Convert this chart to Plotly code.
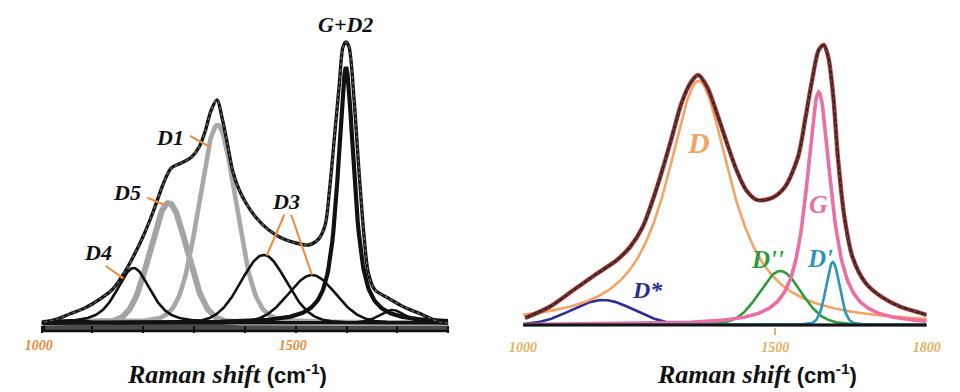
import numpy as np
import plotly.graph_objects as go

# ---------------------------------------------------------------
# Common Raman-shift grid used to evaluate the fitted band profiles
# ---------------------------------------------------------------
shift = np.arange(1000, 1801, 2)

# ---------------- Left panel: measured spectrum ----------------
left_obs_shift = [1005, 1030, 1055, 1085, 1115, 1140, 1160, 1180, 1200, 1220,
                  1240, 1255, 1275, 1295, 1310, 1322, 1333, 1345, 1356, 1366,
                  1376, 1388, 1402, 1421, 1447, 1472, 1500, 1525, 1545, 1558,
                  1566, 1577, 1586, 1593, 1599, 1605, 1615, 1624, 1634, 1643,
                  1656, 1682, 1713, 1751, 1783, 1800]
left_obs_int = [1, 4, 9, 15, 24, 34, 48, 66, 87, 112,
                140, 155, 160, 166, 176, 192, 212, 223, 203, 178,
                152, 134, 120, 106, 93, 85, 80, 78, 84, 98,
                130, 190, 240, 276, 281, 276, 223, 156, 90, 50,
                33, 25, 16, 8, 1, 0]

# ---------------- Left panel: fitted bands ----------------
left_band_label = ["D4", "D5", "D1", "D3", "D3", "G+D2", "", ""]
left_band_center = [1181, 1250, 1346, 1437, 1532, 1599, 1690, 1075]
left_band_height = [55, 120, 198, 68, 48, 255, 13, 3]
left_band_fwhm = [78, 86, 86, 106, 110, 38, 60, 40]
left_band_lorentz = [0.5, 0.05, 0.15, 0.1, 0.1, 0.85, 0.3, 0.0]

# ---------------- Right panel: measured spectrum ----------------
right_obs_shift = [1004, 1052, 1100, 1148, 1186, 1212, 1237, 1257, 1276, 1295,
                   1314, 1333, 1347, 1365, 1384, 1404, 1423, 1442, 1464, 1493,
                   1519, 1545, 1560, 1573, 1586, 1596, 1605, 1615, 1624, 1637,
                   1653, 1679, 1711, 1749, 1788, 1800]
right_obs_int = [7, 18, 35, 52, 65, 78, 98, 125, 155, 188,
                 222, 243, 250, 238, 212, 182, 155, 135, 125, 127,
                 138, 168, 208, 245, 275, 280, 268, 228, 168, 108,
                 68, 42, 28, 18, 12, 10]

# ---------------- Right panel: fitted bands ----------------
right_band_label = ["D*", "D", "D''", "G", "D'"]
right_band_center = [1158, 1348, 1510, 1586, 1614]
right_band_height = [25, 244, 54, 233, 63]
right_band_fwhm = [145, 152, 98, 58, 32]
right_band_lorentz = [0.0, 0.92, 0.15, 0.9, 0.2]
right_band_color = ["#2b2f93", "#f2a465", "#2f9a3c", "#ec6fa2", "#2b93bf"]

# Tick labels on the Raman-shift axes
left_tick_vals = [1000, 1500]
right_tick_vals = [1000, 1500, 1800]


def pseudo_voigt(x, center, height, fwhm, eta):
    """Pseudo-Voigt band: eta * Lorentzian + (1 - eta) * Gaussian."""
    d = (x - center) / fwhm
    lor = 1.0 / (1.0 + 4.0 * d ** 2)
    gau = np.exp(-4.0 * np.log(2.0) * d ** 2)
    return height * (eta * lor + (1.0 - eta) * gau)


fig = go.Figure()

# ---------------- Left panel traces ----------------
left_style = {
    "D4": ("#111111", 2.6),
    "D5": ("#a4a4a4", 6.0),
    "D1": ("#a8a8a8", 4.6),
    "D3": ("#111111", 2.6),
    "G+D2": ("#111111", 4.2),
    "": ("#111111", 2.4),
}
order = [1, 2, 0, 3, 4, 6, 7, 5]
for i in order:
    col, wid = left_style[left_band_label[i]]
    y = pseudo_voigt(shift, left_band_center[i], left_band_height[i],
                     left_band_fwhm[i], left_band_lorentz[i])
    fig.add_trace(go.Scatter(x=shift, y=y, mode="lines",
                             line=dict(color=col, width=wid),
                             xaxis="x", yaxis="y", showlegend=False,
                             hoverinfo="skip"))

# measured spectrum: dark trace with a grainy dotted overlay
fig.add_trace(go.Scatter(x=left_obs_shift, y=left_obs_int, mode="lines",
                         line=dict(color="#151515", width=3.4, shape="spline",
                                   smoothing=0.8),
                         xaxis="x", yaxis="y", showlegend=False))
fig.add_trace(go.Scatter(x=left_obs_shift, y=left_obs_int, mode="lines",
                         line=dict(color="#6e6e6e", width=1.2, shape="spline",
                                   smoothing=0.8, dash="dot"),
                         xaxis="x", yaxis="y", showlegend=False))

# ---------------- Right panel traces ----------------
for i in range(len(right_band_label)):
    y = pseudo_voigt(shift, right_band_center[i], right_band_height[i],
                     right_band_fwhm[i], right_band_lorentz[i])
    fig.add_trace(go.Scatter(x=shift, y=y, mode="lines",
                             line=dict(color=right_band_color[i],
                                       width=3.6 if right_band_label[i] == "G" else 2.6),
                             xaxis="x2", yaxis="y2", showlegend=False))

# overall fit envelope (red) running under the measured spectrum
fig.add_trace(go.Scatter(x=right_obs_shift, y=right_obs_int, mode="lines",
                         line=dict(color="#e3342f", width=4.4, shape="spline",
                                   smoothing=0.8),
                         xaxis="x2", yaxis="y2", showlegend=False))
fig.add_trace(go.Scatter(x=right_obs_shift, y=right_obs_int, mode="lines",
                         line=dict(color="#2a2a2a", width=2.6, shape="spline",
                                   smoothing=0.8),
                         xaxis="x2", yaxis="y2", showlegend=False))
fig.add_trace(go.Scatter(x=right_obs_shift, y=right_obs_int, mode="lines",
                         line=dict(color="#5e5e5e", width=1.0, shape="spline",
                                   smoothing=0.8, dash="dot"),
                         xaxis="x2", yaxis="y2", showlegend=False))

# ---------------- Axes ----------------
serif = "Liberation Serif"
tick_font_left = dict(family=serif, size=14, color="#f0883a",
                      weight="bold", style="italic")
tick_font_right = dict(family=serif, size=14, color="#e6b060",
                       weight="bold", style="italic")

fig.update_layout(
    width=960, height=392,
    margin=dict(l=0, r=0, t=0, b=0),
    paper_bgcolor="white", plot_bgcolor="white",
    xaxis=dict(domain=[25.5 / 960, 445.5 / 960], range=[1000, 1800],
               showgrid=False, zeroline=False, showline=False,
               tickvals=left_tick_vals, ticks="", tickfont=tick_font_left,
               ticklabelstandoff=2, ticklabelshift=-3,
               minor=dict(ticks="inside", dtick=100, tick0=1000, ticklen=7,
                          tickwidth=1.5, tickcolor="#111", showgrid=False),
               anchor="y"),
    yaxis=dict(domain=[(392 - 333) / 392, (392 - 13) / 392], range=[-10, 310],
               visible=False, anchor="x"),
    xaxis2=dict(domain=[523 / 960, 940 / 960], range=[1000, 1800],
                showgrid=False, zeroline=False, showline=False,
                tickvals=right_tick_vals, ticks="inside", ticklen=7,
                tickwidth=1.5, tickcolor="#e6b060", tickfont=tick_font_right,
                ticklabelstandoff=2, anchor="y2"),
    yaxis2=dict(domain=[(392 - 335) / 392, (392 - 15) / 392], range=[-10, 310],
                visible=False, anchor="x2"),
)

# baseline bars
fig.add_shape(type="rect", xref="x", yref="y", x0=1005, x1=1800, y0=-8, y1=1,
              fillcolor="#4a4a4a", line=dict(color="#111111", width=2.4),
              layer="below")
fig.add_shape(type="line", xref="x2", yref="y2", x0=1000, x1=1800, y0=0, y1=0,
              line=dict(color="#151515", width=3.2), layer="above")

# ---------------- Band labels ----------------
lab_font = dict(family=serif, size=22, color="#111111", weight="bold",
                style="italic")
left_labels = [("D4", 1110, 71), ("D5", 1167, 131), ("D1", 1252, 186),
               ("D3", 1481, 122), ("G+D2", 1599, 299)]
for txt, lx, ly in left_labels:
    fig.add_annotation(x=lx, y=ly, xref="x", yref="y", text=txt,
                       showarrow=False, font=lab_font)

# orange leader lines from labels to their bands
leaders = [(0, 1123, 58, 1161), (1, 1205, 126, 1243), (2, 1289, 188, 1329),
           (3, 1479, 110, 1443), (4, 1490, 110, 1532)]
for bi, sx, sy, ex in leaders:
    ey = float(pseudo_voigt(ex, left_band_center[bi], left_band_height[bi],
                            left_band_fwhm[bi], left_band_lorentz[bi]))
    fig.add_annotation(x=ex, y=ey, xref="x", yref="y", ax=sx, ay=sy,
                       axref="x", ayref="y", text="", showarrow=True,
                       arrowhead=0, arrowwidth=2, arrowcolor="#f0883a")

right_labels = [("D", 1347, 182, 30), ("G", 1585, 120, 26), ("D'", 1589, 67, 25),
                ("D''", 1484, 66, 25), ("D*", 1246, 35, 24)]
right_label_color = {"D": "#f2a465", "G": "#ec6fa2", "D'": "#2b93bf",
                     "D''": "#2f9a3c", "D*": "#2b2f93"}
for txt, lx, ly, fs in right_labels:
    fig.add_annotation(x=lx, y=ly, xref="x2", yref="y2", text=txt,
                       showarrow=False,
                       font=dict(family=serif, size=fs,
                                 color=right_label_color[txt],
                                 weight="bold", style="italic"))

# ---------------- Axis titles ----------------
title_txt = ("<b><i>Raman shift</i></b> "
             "<span style='font-family:Liberation Sans;font-size:22px'>"
             "<b>(cm<sup>-1</sup>)</b></span>")
for cx in (217 / 960, 765 / 960):
    fig.add_annotation(x=cx, y=1 / 392, xref="paper", yref="paper",
                       xanchor="center", yanchor="bottom",
                       text=title_txt, showarrow=False,
                       font=dict(family=serif, size=26, color="#111111"))

fig.write_html("out.html")
